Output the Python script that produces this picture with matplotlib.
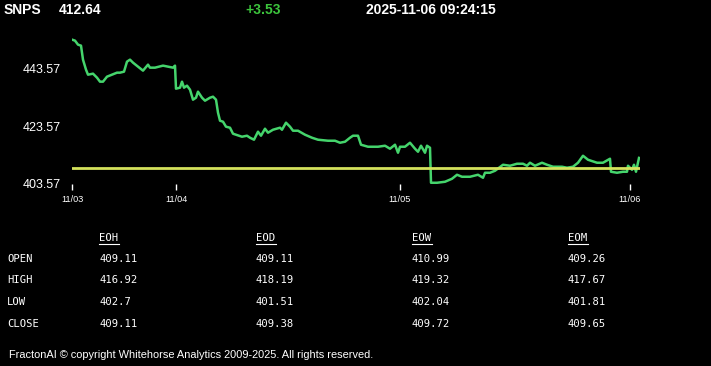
import matplotlib

matplotlib.use("Agg")
import matplotlib.pyplot as plt
from matplotlib.lines import Line2D

# price trace (x = sample index, price)
idx = [0, 3, 6, 9, 11, 14, 16, 21, 25, 28, 31, 35, 40, 45, 48, 52, 55, 58, 61, 66,
       71, 76, 78, 83, 91, 96, 101, 103, 104, 108, 110, 112, 115, 118, 121, 124, 126,
       130, 133, 138, 141, 144, 146, 148, 151, 154, 158, 161, 170, 175, 178, 182, 186,
       189, 193, 196, 201, 208, 210, 214, 218, 221, 226, 233, 240, 246, 256, 263, 268,
       273, 278, 281, 286, 289, 296, 306, 313, 318, 323, 326, 328, 333, 338, 343, 346,
       349, 353, 355, 358, 359, 365, 373, 380, 385, 390, 398, 406, 411, 413, 418, 423,
       431, 438, 445, 451, 455, 458, 463, 470, 475, 481, 490, 495, 501, 506, 511, 516,
       525, 531, 538, 539, 545, 551, 555, 556, 558, 560, 562, 564, 566, 567]
price = [453.74, 453.39, 452.0, 451.65, 446.78, 443.3, 441.56, 441.91, 440.52, 439.13,
         439.13, 440.87, 441.56, 442.26, 442.26, 442.61, 446.09, 446.78, 445.74, 444.35,
         442.96, 445.04, 444.0, 444.0, 444.7, 444.35, 444.0, 444.7, 436.7, 437.04,
         439.13, 437.04, 437.74, 436.35, 432.87, 433.56, 435.65, 433.56, 432.52, 433.56,
         433.91, 432.87, 428.35, 425.57, 425.22, 423.48, 423.13, 421.04, 420.0, 420.35,
         419.65, 418.96, 421.74, 420.35, 422.78, 421.39, 422.43, 423.13, 422.43, 424.87,
         423.48, 422.09, 422.09, 420.7, 419.65, 418.96, 418.61, 418.61, 417.91, 418.26,
         419.65, 420.35, 420.35, 417.22, 416.52, 416.52, 416.87, 415.83, 417.22, 414.43,
         416.52, 416.52, 417.91, 415.83, 414.78, 416.87, 414.43, 416.87, 416.17, 404.0,
         404.0, 404.35, 405.39, 406.78, 406.09, 406.09, 406.78, 405.74, 407.48, 407.48,
         408.17, 410.26, 409.91, 410.61, 410.61, 409.91, 410.96, 409.91, 410.96, 410.26,
         409.57, 409.57, 409.22, 409.57, 410.96, 413.39, 412.0, 410.96, 410.96, 412.35,
         407.83, 407.48, 407.83, 407.83, 409.91, 409.22, 408.52, 410.26, 407.83, 410.96,
         412.64]
ref_price = 409.11
date_ticks = [0, 104, 328, 558]
date_labels = ["11/03", "11/04", "11/05", "11/06"]
y_ticks = [403.57, 423.57, 443.57]

header = [("SNPS", "white"), ("412.64", "white"), ("+3.53", "#3cc43c"),
          ("2025-11-06 09:24:15", "white")]
cols = ["EOH", "EOD", "EOW", "EOM"]
rows = ["OPEN", "HIGH", "LOW", "CLOSE"]
table = [["409.11", "409.11", "410.99", "409.26"],
         ["416.92", "418.19", "419.32", "417.67"],
         ["402.7", "401.51", "402.04", "401.81"],
         ["409.11", "409.38", "409.72", "409.65"]]

W, H = 711, 366
fig = plt.figure(figsize=(W / 100, H / 100), dpi=100, facecolor="black")


def fx(px):
    return px / W


def fy(py):
    return 1 - py / H


ax = fig.add_axes([fx(72), fy(184), fx(640) - fx(72), fy(36) - fy(184)])
ax.set_facecolor("black")
ax.plot(idx, price, color="#45d46c", lw=1.8, zorder=2)
ax.plot([0, 568], [ref_price, ref_price], color="#d4e25c", lw=2.0, zorder=3)
ax.set_xlim(0, 568)
ax.set_ylim(403.57, 455.0)
ax.set_xticks(date_ticks)
ax.set_xticklabels(date_labels, fontsize=6.6, color="white", family="Liberation Sans")
ax.set_yticks(y_ticks)
ax.set_yticklabels([f"{v:.2f}" for v in y_ticks], fontsize=9, color="white",
                   family="Liberation Sans")
ax.tick_params(axis="x", length=4, width=1, color="white", pad=4)
ax.tick_params(axis="y", length=0, pad=8)
for s in ax.spines.values():
    s.set_visible(False)

# header line
hx = [4, 59, 245, 366]
for (txt, c), x in zip(header, hx):
    fig.text(fx(x), fy(10), txt, color=c, fontsize=10, fontweight="bold",
             family="Liberation Sans", va="center", ha="left")

# OHLC table
col_x = [99, 256, 412, 568]
row_y = [259, 280, 302, 324]
mono = dict(family="DejaVu Sans Mono", fontsize=7.6, color="white", va="center", ha="left")
for c, x in zip(cols, col_x):
    fig.text(fx(x), fy(238), c, **mono)
    fig.add_artist(Line2D([fx(x), fx(x + 20)], [fy(243.5), fy(243.5)],
                          color="white", lw=0.8, transform=fig.transFigure))
for r, y, vals in zip(rows, row_y, table):
    fig.text(fx(7), fy(y), r, **mono)
    for v, x in zip(vals, col_x):
        fig.text(fx(x), fy(y), v, **mono)

fig.text(fx(9), fy(355), "FractonAI \u00a9 copyright Whitehorse Analytics 2009-2025. All rights reserved.",
         color="white", fontsize=7.9, family="Liberation Sans", va="center", ha="left")

fig.savefig("out.png", dpi=100, facecolor="black")
